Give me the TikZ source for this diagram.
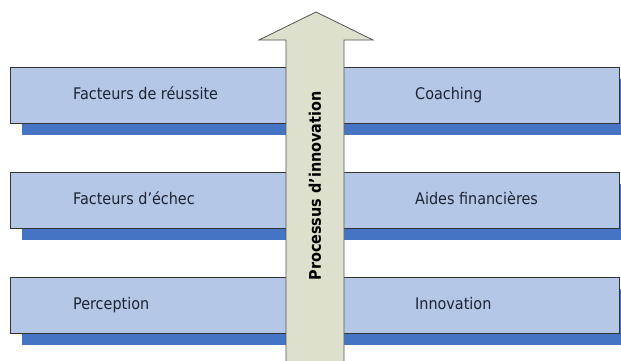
\documentclass[tikz,border=0pt]{standalone}
\usepackage{fontspec}
\setmainfont{DejaVu Sans Condensed}
\definecolor{bandfill}{HTML}{B4C7E7}
\definecolor{bandshadow}{HTML}{4674C5}
\definecolor{bandtext}{HTML}{1C2433}
\definecolor{arrowfill}{HTML}{DDE0CC}
\definecolor{arrowline}{HTML}{555555}
\begin{document}
\begin{tikzpicture}[x=1pt,y=-1pt,
  band/.style={draw=black!80,line width=0.8pt,fill=bandfill},
  shadowbar/.style={fill=bandshadow},
  label/.style={anchor=base west,text=bandtext,font=\fontsize{16}{18}\selectfont,inner sep=0pt},
  flow/.style={draw=arrowline,line width=0.8pt,fill=arrowfill,line join=miter}]
  \useasboundingbox (0,0) rectangle (621,360);
  % shadow strips below each band
  \foreach \t/\n in {67/a,172/b,277/c}{
    \fill[shadowbar] (22,\t+12) rectangle (621,\t+68);
    \draw[band] (10,\t) rectangle (619,\t+56);
  }
  % the vertical process arrow
  \draw[flow] (286,362) -- (286,40) -- (259,40) -- (316,12) -- (373,40) -- (344,40) -- (344,362);
  \node[rotate=90,font=\bfseries\fontsize{16}{18}\selectfont,text=black] (proc) at (315,186) {Processus d’innovation};
  % labels, placed on their baselines
  \node[label] (l1) at (73,99.5) {Facteurs de réussite};
  \node[label] (l2) at (73,204.5) {Facteurs d’échec};
  \node[label] (l3) at (73,309.5) {Perception};
  \node[label] (r1) at (415,99.5) {Coaching};
  \node[label] (r2) at (415,204.5) {Aides financières};
  \node[label] (r3) at (415,309.5) {Innovation};
\end{tikzpicture}
\end{document}
